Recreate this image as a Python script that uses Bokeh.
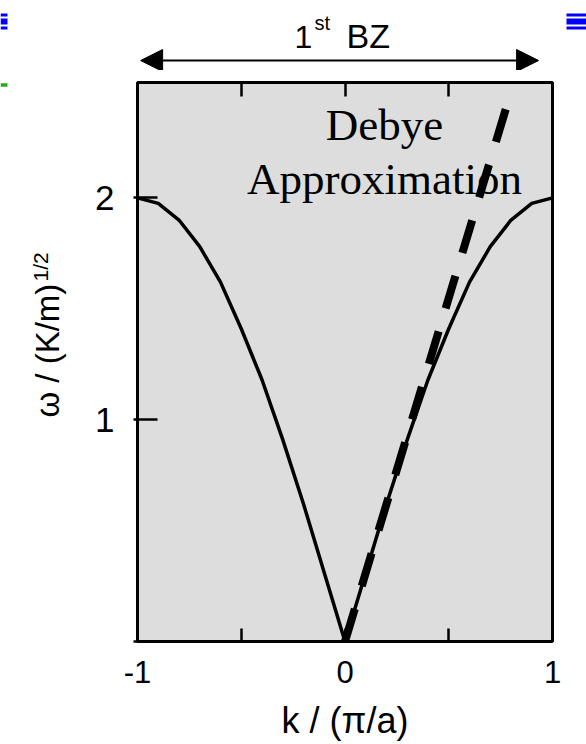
import numpy as np
from bokeh.plotting import figure
from bokeh.layouts import column, row
from bokeh.models import Range1d, FixedTicker, LinearAxis, Label, Arrow, NormalHead
from bokeh.embed import file_html
from bokeh.resources import INLINE

# ---- data ----
k_vals = [-1.0, -0.9, -0.8, -0.7, -0.6, -0.5, -0.4, -0.3, -0.2, -0.1, 0.0,
          0.1, 0.2, 0.3, 0.4, 0.5, 0.6, 0.7, 0.8, 0.9, 1.0]
omega_vals = [2.0, 1.975, 1.90, 1.78, 1.62, 1.41, 1.18, 0.91, 0.62, 0.31, 0.0,
              0.31, 0.62, 0.91, 1.18, 1.41, 1.62, 1.78, 1.90, 1.975, 2.0]
debye_k = [0.0, 0.778]
debye_omega = [0.0, 2.41]

x_ticks = [-1, -0.5, 0, 0.5, 1]
x_tick_labels = {-1: "-1", -0.5: "", 0: "0", 0.5: "", 1: "1"}
top_ticks = [-0.5, 0, 0.5]
y_ticks = [0, 1, 2]
y_tick_labels = {0: "", 1: "1", 2: "2"}
bz_start, bz_end = -0.985, 0.933

FONT = "Liberation Sans"
SERIF = "Liberation Serif"

# page geometry (pixels)
W, H = 586, 744
TOP_H = 70          # strip holding the "1st BZ" arrow
LEFT_W = 90         # strip holding the rotated y label
FRAME_L, FRAME_R, FRAME_T, FRAME_B = 137, 552, 82, 641
X0, X1 = -1.0, 1.0
Y0, Y1 = 0.0, 2.52
SX = (FRAME_R - FRAME_L) / (X1 - X0)
SY = (FRAME_B - FRAME_T) / (Y1 - Y0)


def kx(px):
    return X0 + (px - FRAME_L) / SX


def wy(py):
    return Y0 + (FRAME_B - py) / SY


# ---------------- main plot ----------------
p = figure(width=W - LEFT_W, height=H - TOP_H, output_backend="svg",
           toolbar_location=None, title=None,
           x_range=Range1d(X0, X1), y_range=Range1d(Y0, Y1),
           min_border_left=FRAME_L - LEFT_W, min_border_right=W - FRAME_R,
           min_border_top=FRAME_T - TOP_H, min_border_bottom=H - FRAME_B)
p.background_fill_color = "#dcdddc"
p.border_fill_color = "white"
p.outline_line_color = "black"
p.outline_line_width = 3
p.grid.visible = False

xa = p.xaxis[0]
xa.ticker = FixedTicker(ticks=x_ticks)
xa.major_label_overrides = x_tick_labels
xa.major_tick_in = 13
xa.major_tick_out = 0
xa.major_tick_line_width = 2.5
xa.minor_tick_line_color = None
xa.axis_line_width = 2
xa.major_label_text_font = FONT
xa.major_label_text_font_size = "31px"
xa.major_label_text_color = "black"
xa.major_label_standoff = 19
xa.axis_label = "k / (π/a)"
xa.axis_label_text_font = FONT
xa.axis_label_text_font_size = "36px"
xa.axis_label_text_font_style = "normal"
xa.axis_label_text_color = "black"
xa.axis_label_standoff = 14

ya = p.yaxis[0]
ya.ticker = FixedTicker(ticks=y_ticks)
ya.major_label_overrides = y_tick_labels
ya.major_tick_in = 20
ya.major_tick_out = 4
ya.major_tick_line_width = 2.5
ya.minor_tick_line_color = None
ya.axis_line_width = 2
ya.major_label_text_font = FONT
ya.major_label_text_font_size = "35px"
ya.major_label_text_color = "black"
ya.major_label_standoff = 19

ta = LinearAxis(ticker=FixedTicker(ticks=top_ticks),
                major_label_overrides={t: "" for t in top_ticks},
                major_tick_in=14, major_tick_out=0, major_tick_line_width=2.5,
                minor_tick_line_color=None, axis_line_width=2,
                major_label_standoff=0, major_label_text_font_size="1px")
p.add_layout(ta, "above")

p.line(k_vals, omega_vals, line_color="black", line_width=3.5)
p.line(debye_k, debye_omega, line_color="black", line_width=8, line_dash="34 24")

p.add_layout(Label(x=0.19, y=wy(124), text="Debye", text_align="center",
                   text_baseline="alphabetic", text_font=SERIF,
                   text_font_size="45px", text_color="black"))
p.add_layout(Label(x=0.19, y=wy(178), text="Approximation", text_align="center",
                   text_baseline="alphabetic", text_font=SERIF,
                   text_font_size="45px", text_color="black"))

# ---------------- top strip: 1st BZ ----------------
top = figure(width=W, height=TOP_H, output_backend="svg", toolbar_location=None,
             title=None,
             x_range=Range1d(kx(0), kx(W)), y_range=Range1d(wy(TOP_H), wy(0)),
             min_border=0, x_axis_type=None, y_axis_type=None)
top.outline_line_color = None
top.background_fill_color = "white"
top.border_fill_color = "white"
top.grid.visible = False

top.add_layout(Arrow(start=NormalHead(size=22, fill_color="black", line_color="black"),
                     end=NormalHead(size=22, fill_color="black", line_color="black"),
                     x_start=bz_start, y_start=wy(60), x_end=bz_end, y_end=wy(60),
                     line_color="black", line_width=2))
top.add_layout(Label(x=kx(294), y=wy(36), text="1", text_align="left",
                     text_baseline="alphabetic", text_font=FONT,
                     text_font_size="32px", text_color="black"))
top.add_layout(Label(x=kx(314), y=wy(22), text="st", text_align="left",
                     text_baseline="alphabetic", text_font=FONT,
                     text_font_size="20px", text_color="black"))
top.add_layout(Label(x=kx(346), y=wy(35), text="BZ", text_align="left",
                     text_baseline="alphabetic", text_font=FONT,
                     text_font_size="34px", text_color="black"))

# slide-template marks in the corners
bar_tops = [13, 18, 26]
bar_bottoms = [16, 24, 29]
top.quad(left=[kx(0)] * 3, right=[kx(7)] * 3,
         top=[wy(v) for v in bar_tops], bottom=[wy(v) for v in bar_bottoms],
         color="blue", line_width=0)
top.quad(left=[kx(566)] * 3, right=[kx(586)] * 3,
         top=[wy(v) for v in bar_tops], bottom=[wy(v) for v in bar_bottoms],
         color="blue", line_width=0)

# ---------------- left strip: y label ----------------
left = figure(width=LEFT_W, height=H - TOP_H, output_backend="svg",
              toolbar_location=None, title=None,
              x_range=Range1d(kx(0), kx(LEFT_W)), y_range=Range1d(wy(H), wy(TOP_H)),
              min_border=0, x_axis_type=None, y_axis_type=None)
left.outline_line_color = None
left.background_fill_color = "white"
left.border_fill_color = "white"
left.grid.visible = False

# rotated labels anchored at their start (bottom end); anchor offsets tuned to the render
left.add_layout(Label(x=kx(47), y=wy(474), text="ω / (K/m)", angle=np.pi / 2,
                      text_align="left", text_baseline="alphabetic",
                      text_font=FONT, text_font_size="33px", text_color="black"))
left.add_layout(Label(x=kx(40), y=wy(310), text="1/2", angle=np.pi / 2,
                      text_align="left", text_baseline="alphabetic",
                      text_font=FONT, text_font_size="21px", text_color="black"))
left.quad(left=[kx(0)], right=[kx(7)], top=[wy(71)], bottom=[wy(75)],
          color="#22aa22", line_width=0)

layout = column(top, row(left, p, spacing=0), spacing=0)

open("out.html", "w").write(file_html(layout, INLINE))
